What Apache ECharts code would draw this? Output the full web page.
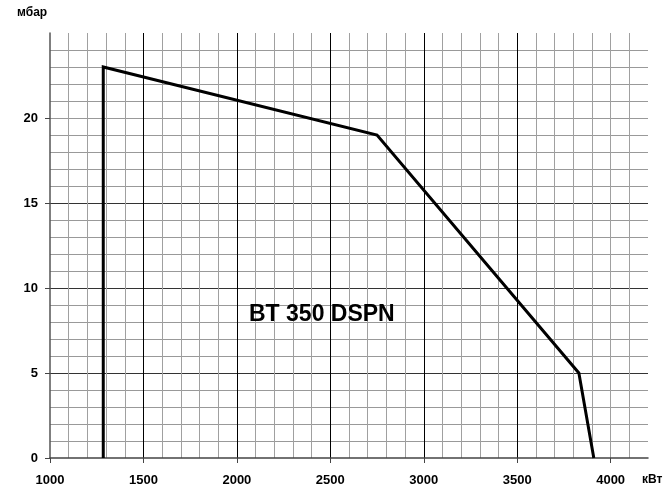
<!DOCTYPE html>
<html>
<head>
<meta charset="utf-8">
<script src="https://cdn.jsdelivr.net/npm/echarts@6/dist/echarts.min.js"></script>
<style>
  html, body { margin: 0; padding: 0; background: #fff; }
  #main { width: 665px; height: 491px; }
</style>
</head>
<body>
<div id="main"></div>
<script>
// working field of the burner
var powerKw = [1285, 1285, 2750, 3830, 3910];
var pressureMbar = [0, 23, 19, 5, 0];
var xTicks = [1000, 1500, 2000, 2500, 3000, 3500, 4000];
var yTicks = [0, 5, 10, 15, 20];
var modelName = 'BT 350 DSPN';

var chart = echarts.init(document.getElementById('main'), null, { renderer: 'canvas' });

var font = 'Arial, "Liberation Sans", sans-serif';

var option = {
  animation: false,
  backgroundColor: '#fff',
  grid: { left: 50, right: 17, top: 33, bottom: 33 },
  xAxis: [
    {
      // minor grid every 100 kW
      type: 'value', min: 1000, max: 4200, interval: 100,
      axisLine: { show: true, lineStyle: { color: '#444', width: 1.5 } },
      axisTick: { show: false },
      axisLabel: { show: false },
      splitLine: { show: true, showMaxLine: false, showMinLine: false, lineStyle: { color: '#a0a0a0', width: 1 } }
    },
    {
      // major grid every 500 kW + labels
      type: 'value', min: 1000, max: 4200, interval: 500, position: 'bottom',
      axisLine: { show: false },
      axisTick: { show: true, length: 5, customValues: xTicks, lineStyle: { color: '#444' } },
      axisLabel: {
        show: true, customValues: xTicks, margin: 16,
        formatter: function (v) { return String(v); },
        color: '#000', fontFamily: font, fontWeight: 'bold', fontSize: 13
      },
      splitLine: { show: true, showMaxLine: false, showMinLine: false, lineStyle: { color: '#000', width: 1 } }
    }
  ],
  yAxis: [
    {
      // minor grid every 1 mbar
      type: 'value', min: 0, max: 25, interval: 1,
      axisLine: { show: true, lineStyle: { color: '#555', width: 1.5 } },
      axisTick: { show: false },
      axisLabel: { show: false },
      splitLine: { show: true, showMaxLine: false, showMinLine: false, lineStyle: { color: '#999', width: 1 } }
    },
    {
      type: 'value', min: 0, max: 25, interval: 5, position: 'left',
      axisLine: { show: false },
      axisTick: { show: true, length: 5, customValues: yTicks, lineStyle: { color: '#444' } },
      axisLabel: {
        show: true, customValues: yTicks, margin: 12,
        formatter: function (v) { return String(v); },
        color: '#000', fontFamily: font, fontWeight: 'bold', fontSize: 13
      },
      splitLine: { show: true, showMaxLine: false, showMinLine: false, lineStyle: { color: '#333', width: 1 } }
    }
  ],
  graphic: [
    { type: 'text', left: 17, top: 7, style: { text: 'мбар', fill: '#000', font: 'bold 12px ' + font } },
    { type: 'text', left: 642, top: 474, style: { text: 'кВт', fill: '#000', font: 'bold 12px ' + font } },
    { type: 'text', left: 249, top: 303, z: 10, style: { text: modelName, fill: '#000', font: 'bold 23px ' + font } }
  ],
  series: [
    {
      type: 'line',
      xAxisIndex: 0,
      yAxisIndex: 0,
      symbol: 'none',
      z: 5,
      lineStyle: { color: '#000', width: 3, join: 'miter' },
      data: powerKw.map(function (p, i) { return [p, pressureMbar[i]]; })
    }
  ]
};

chart.setOption(option);
</script>
</body>
</html>
